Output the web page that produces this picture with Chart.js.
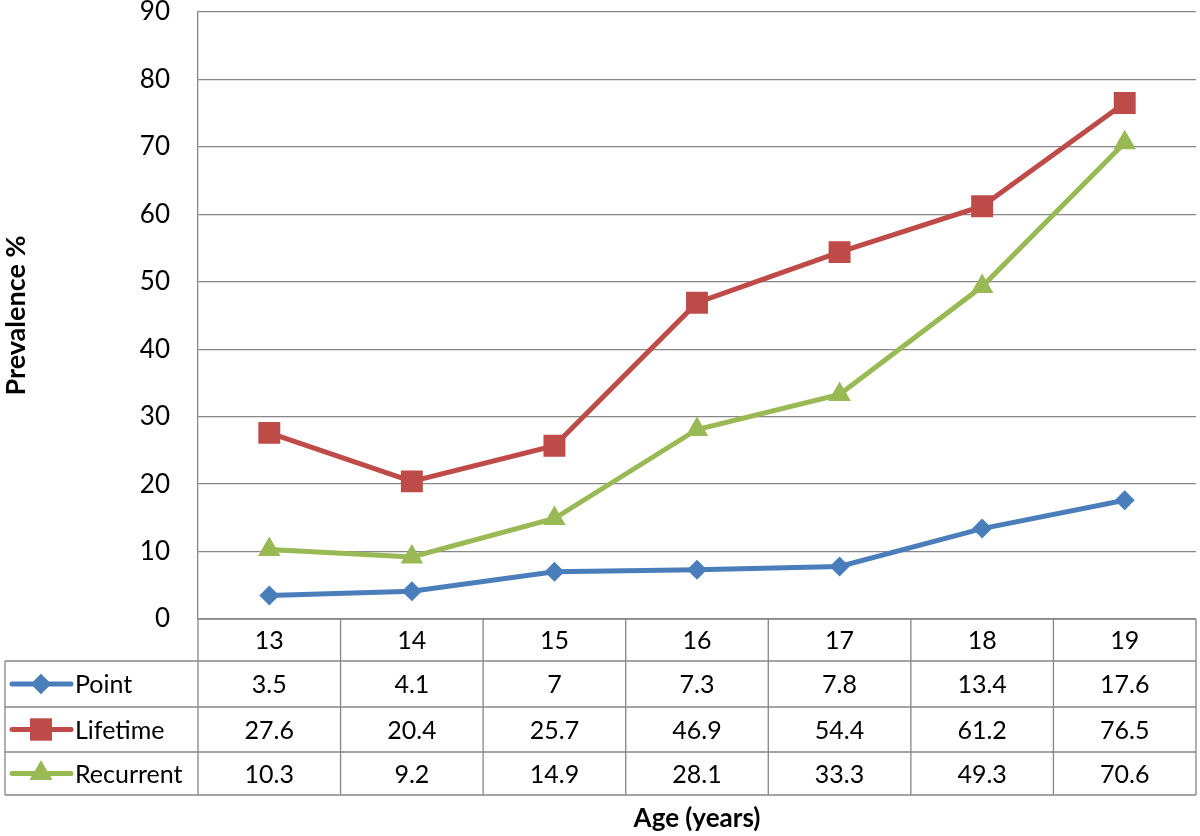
<!DOCTYPE html>
<html>
<head>
<meta charset="utf-8">
<style>
  html, body { margin: 0; padding: 0; background: #fff; }
  #wrap { width: 1200px; height: 836px; position: relative; }
</style>
<script src="https://cdn.jsdelivr.net/npm/chart.js@4.4.0/dist/chart.umd.min.js"></script>
</head>
<body>
<div id="wrap"><canvas id="c" width="1200" height="836"></canvas></div>
<script>
const ages = ['13', '14', '15', '16', '17', '18', '19'];
const pointPrev = [3.5, 4.1, 7, 7.3, 7.8, 13.4, 17.6];
const lifetimePrev = [27.6, 20.4, 25.7, 46.9, 54.4, 61.2, 76.5];
const recurrentPrev = [10.3, 9.2, 14.9, 28.1, 33.3, 49.3, 70.6];
const seriesNames = ['Point', 'Lifetime', 'Recurrent'];
const yTitle = 'Prevalence %';
const xTitle = 'Age (years)';

const GRID = '#868686';
const FONT = 'Lato, "Open Sans", sans-serif';

const colors = ['#4a7ebb', '#be4b48', '#98b954'];
const styles = ['rectRot', 'rect', 'triangle'];
const radii = [10, 15.5, 13];

const tablePlugin = {
  id: 'dataTable',
  afterDraw(chart) {
    const ctx = chart.ctx;
    const ca = chart.chartArea;
    const xs = chart.scales.x;
    const n = ages.length;
    const colW = (ca.right - ca.left) / n;
    const tableLeft = 5;
    const rows = [ca.bottom, ca.bottom + 42, ca.bottom + 88, ca.bottom + 133, ca.bottom + 176];
    ctx.save();
    ctx.strokeStyle = GRID;
    ctx.lineWidth = 1.3;
    ctx.beginPath();
    ctx.moveTo(ca.left, rows[0]); ctx.lineTo(ca.right, rows[0]);
    for (let i = 1; i < rows.length; i++) {
      ctx.moveTo(tableLeft, rows[i]); ctx.lineTo(ca.right, rows[i]);
    }
    ctx.moveTo(tableLeft, rows[1]); ctx.lineTo(tableLeft, rows[4]);
    for (let i = 0; i <= n; i++) {
      const x = ca.left + i * colW;
      ctx.moveTo(x, rows[0]); ctx.lineTo(x, rows[4]);
    }
    ctx.stroke();

    ctx.fillStyle = '#000';
    ctx.textAlign = 'center';
    ctx.textBaseline = 'middle';
    ctx.font = '25px ' + FONT;
    for (let i = 0; i < n; i++) {
      ctx.fillText(ages[i], xs.getPixelForValue(i), (rows[0] + rows[1]) / 2 + 1);
    }
    const sets = [pointPrev, lifetimePrev, recurrentPrev];
    for (let r = 0; r < 3; r++) {
      const cy = (rows[r + 1] + rows[r + 2]) / 2;
      ctx.fillStyle = '#000';
      ctx.textAlign = 'center';
      for (let i = 0; i < n; i++) {
        ctx.fillText(String(sets[r][i]), xs.getPixelForValue(i), cy + 1);
      }
      ctx.strokeStyle = colors[r];
      ctx.lineWidth = 5;
      ctx.lineCap = 'round';
      ctx.beginPath();
      ctx.moveTo(12, cy); ctx.lineTo(71, cy);
      ctx.stroke();
      ctx.fillStyle = colors[r];
      Chart.helpers.drawPoint(ctx, { pointStyle: styles[r], radius: radii[r], borderWidth: 0 }, 41, cy);
      ctx.fill();
      ctx.fillStyle = '#000';
      ctx.textAlign = 'left';
      ctx.fillText(seriesNames[r], 75, cy + 1);
    }
    ctx.font = 'bold 26px ' + FONT;
    ctx.textAlign = 'center';
    ctx.fillStyle = '#000';
    ctx.fillText(xTitle, (ca.left + ca.right) / 2, 819);
    ctx.restore();
  }
};

function mk(label, data, i) {
  return {
    label, data,
    borderColor: colors[i],
    backgroundColor: colors[i],
    borderWidth: 5,
    pointStyle: styles[i],
    pointRadius: radii[i],
    pointHoverRadius: radii[i],
    pointBorderWidth: 0,
    pointBackgroundColor: colors[i],
    tension: 0,
    fill: false
  };
}

new Chart(document.getElementById('c'), {
  type: 'line',
  data: {
    labels: ages,
    datasets: [
      mk(seriesNames[0], pointPrev, 0),
      mk(seriesNames[1], lifetimePrev, 1),
      mk(seriesNames[2], recurrentPrev, 2)
    ]
  },
  options: {
    responsive: false,
    animation: false,
    devicePixelRatio: 1,
    layout: { autoPadding: false, padding: { top: 12, right: 4, bottom: 217, left: 0 } },
    plugins: { legend: { display: false }, tooltip: { enabled: false } },
    scales: {
      x: { display: false, offset: true },
      y: {
        min: 0, max: 90,
        ticks: { stepSize: 10, color: '#000', font: { family: FONT, size: 26 }, padding: 28 },
        grid: { color: GRID, lineWidth: 1.3, drawTicks: false },
        border: { display: true, color: GRID, width: 1.3 },
        title: { display: true, text: yTitle, color: '#000', font: { family: FONT, size: 27, weight: 'bold' }, padding: 0 },
        afterFit(scale) { scale.width = 198; scale.paddingTop = 0; scale.paddingBottom = 0; }
      }
    }
  },
  plugins: [tablePlugin]
});
</script>
</body>
</html>
